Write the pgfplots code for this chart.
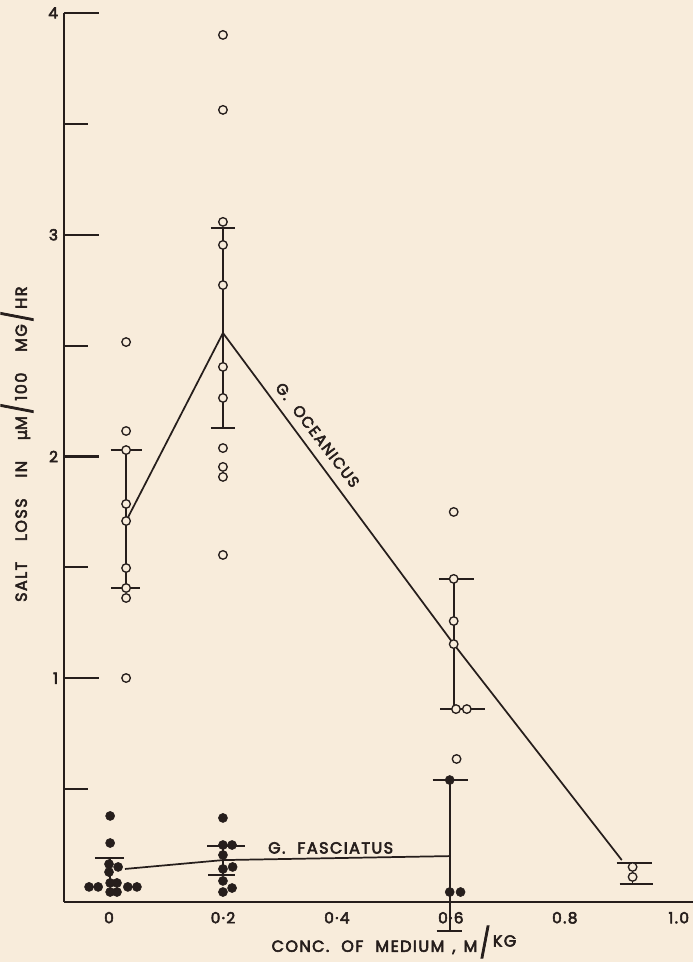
\documentclass[border=0pt]{standalone}
\usepackage{fontspec}
\setmainfont{Poppins}[LetterSpace=9, FakeBold=3.5]
\newfontfamily\dejavu{DejaVu Sans}[FakeBold=3]
\usepackage{pgfplots}
\pgfplotsset{compat=1.18}
\definecolor{bg}{RGB}{248,236,219}
\definecolor{ink}{RGB}{38,30,28}
\newcommand{\bigsl}{\hspace{0.15em}\raisebox{-0.15ex}{\scalebox{1.4}[1.8]{/}}\hspace{0.15em}}
\newcommand{\gap}{\hspace{0.75em}}
\newcommand{\ygap}{\hspace{1.3em}}
\begin{document}
\begin{tikzpicture}[x=1pt,y=1pt]
\fill[bg] (-48,-45) rectangle (471.75,676.5);
\begin{axis}[
  at={(0,0)}, anchor=south west,
  scale only axis, width=471.75pt, height=666.75pt,
  xmin=-0.079, xmax=1.025, ymin=-0.009, ymax=4,
  axis x line=bottom, axis y line=left,
  axis line style={ink, line width=1.7pt, -},
  clip=false,
  xtick={0,0.2,0.4,0.6,0.8,1.0},
  xticklabels={0,0·2,0·4,0·6,0.8,1.0},
  x tick style={draw=none},
  ytick={1,2,3,4}, yticklabels={1,2,3,4},
  minor ytick={0.5,1.5,2.5,3.5},
  tick align=inside,
  y tick style={ink, line width=1.6pt},
  major tick length=26.25pt, minor tick length=18pt,
  tick label style={font=\fontsize{11.5}{13}\selectfont, text=ink},
  xticklabel style={yshift=-4pt},
  yticklabel style={xshift=-1pt},
  xlabel={CONC.\gap OF\gap MEDIUM\hspace{0.5em},\hspace{0.5em}M\bigsl\raisebox{0.6ex}{KG}},
  ylabel={SALT\ygap LOSS\ygap IN\ygap {\dejavu μ}M\bigsl 100\ygap MG\bigsl HR},
  xlabel style={at={(axis description cs:0.5246,-0.045)}, anchor=center, font=\fontsize{12}{14}\selectfont, text=ink},
  ylabel style={at={(axis description cs:-0.0747,0.515)}, anchor=center, font=\fontsize{12}{14}\selectfont, text=ink},
]
% ---- G. oceanicus lines
\addplot[ink, line width=1.3pt] coordinates {(0.03,1.709) (0.2,2.557) (0.605,1.154) (0.90,0.18)};
\addplot[ink, line width=1.3pt] coordinates {(0.03,1.407) (0.03,2.029)};
\addplot[ink, line width=1.3pt] coordinates {(0.003,2.029) (0.058,2.029)};
\addplot[ink, line width=1.3pt] coordinates {(0.004,1.407) (0.054,1.407)};
\addplot[ink, line width=1.3pt] coordinates {(0.2,2.13) (0.2,3.03)};
\addplot[ink, line width=1.3pt] coordinates {(0.179,3.03) (0.221,3.03)};
\addplot[ink, line width=1.3pt] coordinates {(0.179,2.13) (0.221,2.13)};
\addplot[ink, line width=1.3pt] coordinates {(0.605,0.861) (0.605,1.448)};
\addplot[ink, line width=1.3pt] coordinates {(0.579,1.448) (0.640,1.448)};
\addplot[ink, line width=1.3pt] coordinates {(0.581,0.861) (0.660,0.861)};
\addplot[ink, line width=1.3pt] coordinates {(0.891,0.167) (0.953,0.167)};
\addplot[ink, line width=1.3pt] coordinates {(0.896,0.072) (0.954,0.072)};
\addplot[ink, line width=1.3pt] coordinates {(0.919,0.072) (0.919,0.167)};
% ---- G. fasciatus lines
\addplot[ink, line width=1.3pt] coordinates {(0.028,0.140) (0.2,0.18) (0.598,0.198)};
\addplot[ink, line width=1.3pt] coordinates {(-0.025,0.189) (0.026,0.189)};
\addplot[ink, line width=1.3pt] coordinates {(0.002,0.189) (0.002,0.09)};
\addplot[ink, line width=1.3pt] coordinates {(0.172,0.244) (0.239,0.244)};
\addplot[ink, line width=1.3pt] coordinates {(0.174,0.113) (0.221,0.113)};
\addplot[ink, line width=1.3pt] coordinates {(0.2,0.113) (0.2,0.244)};
\addplot[ink, line width=1.3pt] coordinates {(0.598,-0.14) (0.598,0.541)};
\addplot[ink, line width=1.3pt] coordinates {(0.568,0.541) (0.630,0.541)};
\addplot[ink, line width=1.3pt] coordinates {(0.575,-0.14) (0.619,-0.14)};
% ---- open circles (G. oceanicus)
\addplot[only marks, mark=*, mark size=3.2pt, mark options={fill=bg, draw=ink, line width=1pt}] coordinates {
(0.03,2.516) (0.03,2.115) (0.03,2.029) (0.03,1.786) (0.03,1.709) (0.03,1.497) (0.03,1.407) (0.03,1.362) (0.03,1.001)
(0.2,3.901) (0.2,3.563) (0.2,3.058) (0.2,2.954) (0.2,2.773) (0.2,2.404) (0.2,2.264) (0.2,2.038) (0.2,1.953) (0.2,1.908) (0.2,1.556)
(0.605,1.750) (0.605,1.448) (0.605,1.258) (0.605,1.154) (0.609,0.861) (0.628,0.861) (0.61,0.636)
(0.919,0.149) (0.919,0.104)};
% ---- filled circles (G. fasciatus)
\addplot[only marks, mark=*, mark size=3.4pt, mark options={fill=ink, draw=ink}] coordinates {
(0.002,0.379) (0.002,0.257) (0.0,0.162) (0.016,0.149) (0.0,0.126)
(-0.035,0.059) (-0.019,0.059) (0.002,0.077) (0.002,0.036) (0.014,0.077) (0.014,0.036) (0.033,0.059) (0.049,0.059)
(0.2,0.370) (0.2,0.248) (0.216,0.248) (0.2,0.203) (0.2,0.140) (0.217,0.149) (0.2,0.086) (0.2,0.036) (0.216,0.054)
(0.598,0.541) (0.598,0.036) (0.617,0.036)};
\node[rotate=-52.5, text=ink, font=\fontsize{11.5}{13}\selectfont] at (axis cs:0.366,2.097) {G.\gap OCEANICUS};
\node[text=ink, font=\fontsize{12}{14}\selectfont] at (axis cs:0.389,0.235) {G.\gap FASCIATUS};
\end{axis}
\pgfresetboundingbox
\path[use as bounding box] (-48,-45) rectangle (471.75,676.5);
\end{tikzpicture}
\end{document}
